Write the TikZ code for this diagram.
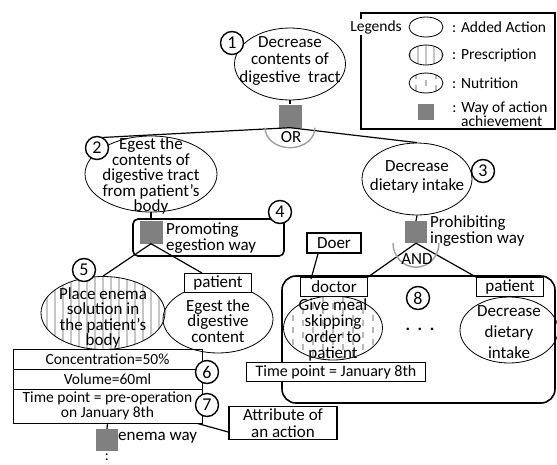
\documentclass[tikz,border=0pt]{standalone}
\usepackage{fontspec}
\setmainfont{Carlito}
\usetikzlibrary{shapes.geometric}

\definecolor{wayfill}{RGB}{128,128,128}

\tikzstyle{action}=[ellipse, draw, line width=0.8pt, inner sep=0pt]
\tikzstyle{txt}=[align=center, inner sep=0pt, font=\fontsize{17}{15.5}\selectfont]
\tikzstyle{small}=[align=center, inner sep=0pt, font=\fontsize{15.5}{14.5}\selectfont]
\tikzstyle{num}=[circle, draw, line width=1.4pt, fill=white, minimum size=23pt, inner sep=0pt, font=\fontsize{18}{18}\selectfont]
\tikzstyle{way}=[rectangle, fill=wayfill, inner sep=0pt, minimum size=22pt]
\tikzstyle{role}=[rectangle, draw, line width=0.9pt, fill=white, inner sep=0pt, minimum width=67pt, minimum height=19pt, font=\fontsize{17}{17}\selectfont]
\tikzstyle{note}=[rectangle, draw, line width=1.6pt, fill=white, inner sep=0pt, align=center, font=\fontsize{17}{16.5}\selectfont]
\tikzstyle{frame}=[rectangle, draw, line width=1.6pt, inner sep=0pt]
\tikzstyle{attrrow}=[rectangle, draw, line width=0.9pt, inner sep=0pt, minimum width=189pt, align=center, font=\fontsize{15.5}{15}\selectfont]
\tikzstyle{link}=[draw, line width=1.2pt]
\tikzstyle{joint}=[draw, line width=1.4pt, gray!75]
\tikzstyle{prescription}=[path picture={\foreach \i in {-64,-56,...,64} \draw[gray!45, line width=1.3pt] ([xshift=\i pt]path picture bounding box.north) -- ([xshift=\i pt]path picture bounding box.south);}]
\tikzstyle{nutrition}=[path picture={\foreach \i [count=\k] in {-60,-50,...,60} {\pgfmathsetmacro\ph{mod(\k,2)*5} \draw[gray!55, line width=1.2pt, dash pattern=on 6pt off 6pt, dash phase=\ph pt] ([xshift=\i pt]path picture bounding box.north) -- ([xshift=\i pt]path picture bounding box.south);}}]

\begin{document}
\begin{tikzpicture}[x=1pt, y=-1pt]
\useasboundingbox (0,0) rectangle (557,464);

% legend
\node[frame, minimum width=194pt, minimum height=116pt] (legbox) at (458,71) {};
\node[small, fill=white, inner sep=1pt] (leg) at (376,27) {Legends};
\node[action, minimum width=34pt, minimum height=20pt] (la) at (426,27) {};
\node[action, prescription, minimum width=34pt, minimum height=20pt] (lp) at (426,55) {};
\node[action, nutrition, minimum width=34pt, minimum height=20pt] (ln) at (426,83) {};
\node[way, minimum size=16pt] (lw) at (426,112) {};
\foreach \pos/\name/\text in {{(452,27)/ta/: Added Action}, {(452,55)/tp/: Prescription}, {(452,83)/tn/: Nutrition}}
    \node[small, anchor=west] (\name) at \pos {\text};
\node[small] (tw) at (500,114) {: Way of action\\ \ achievement};

% frames
\node[frame, rounded corners=5pt, minimum width=151pt, minimum height=37pt] (g4) at (208.5,237.5) {};
\node[frame, rounded corners=14pt, minimum width=273pt, minimum height=127pt] (g8) at (418.5,339.5) {};

% actions
\node[action, minimum width=111pt, minimum height=72pt] (n1) at (290,64) {};
\node[action, minimum width=132pt, minimum height=76pt] (n2) at (151,174) {};
\node[action, minimum width=110pt, minimum height=72pt] (n3) at (417,179) {};
\node[action, prescription, minimum width=124pt, minimum height=73pt] (n5) at (103,313) {};
\node[action, minimum width=110pt, minimum height=68pt] (n6) at (218,319) {};
\node[action, nutrition, minimum width=99pt, minimum height=64pt] (n7) at (333,328) {};
\node[action, minimum width=98pt, minimum height=66pt] (n8) at (509,330) {};

% doers and attributes
\node[role] (p1) at (218,283) {patient};
\node[role] (d1) at (334,287) {doctor};
\node[role] (p2) at (510,287) {patient};
\node[note, minimum width=54pt, minimum height=20pt] (doer) at (334,243) {Doer};
\node[role, minimum width=179pt, font=\fontsize{16}{16}\selectfont] (t1) at (336,372) {Time point = January 8th};
\node[attrrow, minimum height=20pt] (r1) at (107.5,359) {Concentration=50\%};
\node[attrrow, minimum height=20pt] (r2) at (107.5,379) {Volume=60ml};
\node[attrrow, minimum height=34pt] (r3) at (107.5,406) {Time point = pre-operation\\on January 8th};
\node[note, minimum width=108pt, minimum height=33pt] (attr) at (283,423) {Attribute of\\an action};

% ways
\node[way, minimum size=23pt] (sq1) at (290,116) {};
\node[way, minimum size=23pt] (sq4) at (151,232) {};
\node[way] (sq3) at (416,232) {};
\node[way] (sq5) at (107,440) {};

% texts
\node[txt, font=\fontsize{17}{17.5}\selectfont] (n1t) at (290,61) {Decrease\\contents of\\digestive\ \ tract};
\node[txt] (n2t) at (151,176) {Egest the\\contents of\\digestive tract\\from patient's\\body};
\node[txt, font=\fontsize{17}{19}\selectfont] (n3t) at (417,177) {Decrease\\dietary intake};
\node[txt] (n5t) at (103,318) {Place enema\\solution in\\the patient's\\body};
\node[txt] (n6t) at (218,321) {Egest the\\digestive\\content};
\node[txt, font=\fontsize{17}{16.3}\selectfont] (n7t) at (333,330) {Give meal\\skipping\\order to\\patient};
\node[txt, font=\fontsize{17}{21}\selectfont] (n8t) at (509,332) {Decrease\\dietary\\intake};
\node[txt, align=left, anchor=west] (w4) at (166,238) {Promoting\\egestion way};
\node[txt, align=left, anchor=west] (w3) at (430,231) {Prohibiting\\ingestion way};
\node[txt, anchor=west] (w5) at (118,438) {enema way};
\node[txt, font=\fontsize{15}{15}\selectfont] (more) at (107,457) {:};
\node[txt, font=\bfseries\fontsize{17}{17}\selectfont] (dots) at (420,329) {.\ \ .\ \ .};

% numbers
\foreach \pos/\name in {{(232,43)/1}, {(97,148)/2}, {(483,171)/3}, {(280,212)/4}, {(84,270)/5}, {(207,372)/6}, {(207,405)/7}, {(418,298)/8}}
    \node[num] (c\name) at \pos {\name};

% connectors
\path[link] (n1.south) -- (sq1.north);
\path[link] (sq1.south) -- (c2.60);
\path[link] (sq1.south) -- (n3.north);
\path[joint] ([xshift=-25pt]sq1.south) arc[start angle=180, end angle=360, x radius=25pt, y radius=20pt];
\node[txt] (or) at (291,137) {OR};
\path[link] (n2.south) -- (sq4.north);
\path[link] (sq4.south) -- (n5.north);
\path[link] (sq4.south) -- ([xshift=-16pt]p1.north);
\path[link] (n3.south) -- (sq3.north);
\path[link] (sq3.south) -- (d1.north east);
\path[link] (sq3.south) -- (p2.north west);
\path[joint] ([xshift=-23pt]sq3.south) arc[start angle=180, end angle=360, x radius=23pt, y radius=24pt];
\node[txt] (and) at (417,259) {AND};
\path[link] ([xshift=-16pt]doer.south) -- ([xshift=-23pt,yshift=-2pt]d1.north);
\path[link] (r3.south) -- (sq5.north);
\path[link] ([xshift=-5pt]r3.south east) -- ([yshift=-9pt]attr.west);
\end{tikzpicture}
\end{document}
